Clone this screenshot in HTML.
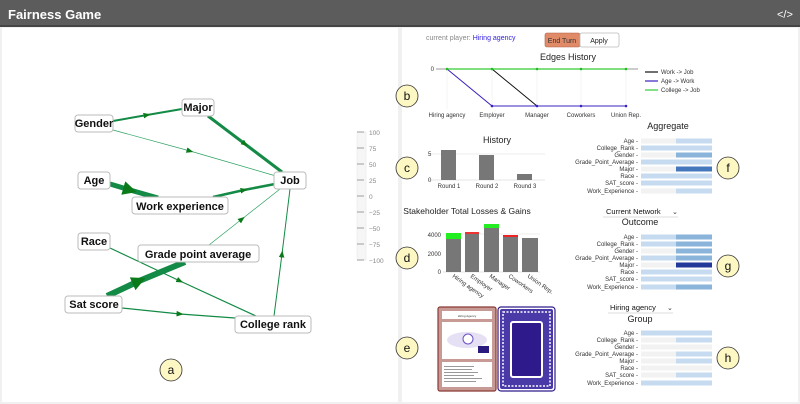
<!DOCTYPE html>
<html><head><meta charset="utf-8"><style>
html,body{margin:0;padding:0;background:#fff}
svg{display:block}
text{font-family:"Liberation Sans",Arial,sans-serif}
</style></head><body>
<svg width="800" height="404" viewBox="0 0 800 404" xmlns="http://www.w3.org/2000/svg">
<defs>
<marker id="ar" viewBox="0 0 10 10" refX="5" refY="5" markerWidth="7" markerHeight="7" markerUnits="userSpaceOnUse" orient="auto"><path d="M0,1 L10,5 L0,9z" fill="#0a7a1a"/></marker>
<marker id="arb" viewBox="0 0 10 10" refX="5" refY="5" markerWidth="14" markerHeight="14" markerUnits="userSpaceOnUse" orient="auto"><path d="M0,0 L10,5 L0,10z" fill="#0a7a1a"/></marker>
</defs>
<rect width="800" height="404" fill="#f0f0f0"/>
<rect x="0" y="0" width="800" height="27" fill="#5c5c5c"/>
<rect x="0" y="25" width="800" height="2" fill="#444"/>
<text x="8" y="19" font-size="13" font-weight="bold" fill="#fff">Fairness Game</text>
<text x="777" y="18" font-size="11" fill="#fff">&lt;/&gt;</text>
<rect x="2" y="28" width="396" height="374" fill="#fff"/>
<rect x="402" y="28" width="396" height="374" fill="#fff"/>

<!-- graph edges -->
<g fill="none" stroke="#138a45">
<polyline points="113,121 147,115 182,109" stroke-width="2" marker-mid="url(#ar)"/>
<polyline points="208,116 245,144 282,172" stroke-width="3" marker-mid="url(#ar)"/>
<polyline points="113,130 190,151 276,176" stroke-width="0.7" stroke="#2aa060" marker-mid="url(#ar)"/>
<polyline points="110,184 130,190 158,198" stroke-width="5" marker-mid="url(#arb)"/>
<polyline points="213,197 244,190 275,184" stroke-width="2.5" marker-mid="url(#ar)"/>
<polyline points="209,245 242,219 280,189" stroke-width="0.7" stroke="#2aa060" marker-mid="url(#ar)"/>
<polyline points="110,248 180,281 256,316" stroke-width="1.2" marker-mid="url(#ar)"/>
<polyline points="107,296 139,281 185,262" stroke-width="6" marker-mid="url(#arb)"/>
<polyline points="122,308 180,314 235,318" stroke-width="1.2" marker-mid="url(#ar)"/>
<polyline points="274,316 282,254 290,189" stroke-width="1" marker-mid="url(#ar)"/>
</g>
<g font-size="11" font-weight="bold" fill="#111" text-anchor="middle">
<rect x="75" y="115" width="38" height="17" rx="3" fill="#fff" stroke="#bbb"/><text x="94" y="127">Gender</text>
<rect x="182" y="99" width="32" height="17" rx="3" fill="#fff" stroke="#bbb"/><text x="198" y="111">Major</text>
<rect x="274" y="172" width="32" height="17" rx="3" fill="#fff" stroke="#bbb"/><text x="290" y="184">Job</text>
<rect x="78" y="172" width="32" height="17" rx="3" fill="#fff" stroke="#bbb"/><text x="94" y="184">Age</text>
<rect x="132" y="197" width="96" height="17" rx="3" fill="#fff" stroke="#bbb"/><text x="180" y="210">Work experience</text>
<rect x="78" y="233" width="32" height="17" rx="3" fill="#fff" stroke="#bbb"/><text x="94" y="245">Race</text>
<rect x="138" y="245" width="121" height="17" rx="3" fill="#fff" stroke="#bbb"/><text x="198" y="258">Grade point average</text>
<rect x="65" y="296" width="57" height="17" rx="3" fill="#fff" stroke="#bbb"/><text x="94" y="308">Sat score</text>
<rect x="235" y="316" width="76" height="17" rx="3" fill="#fff" stroke="#bbb"/><text x="273" y="328">College rank</text>
</g>
<!-- scale -->
<rect x="357" y="132" width="9" height="128" fill="#f6f6f6" stroke="#e4e4e4" stroke-width="0.5"/>
<g stroke="#888" stroke-width="0.8">
<line x1="357" y1="132" x2="364" y2="132"/><line x1="357" y1="148" x2="364" y2="148"/><line x1="357" y1="164" x2="364" y2="164"/><line x1="357" y1="180" x2="364" y2="180"/><line x1="357" y1="196" x2="364" y2="196"/><line x1="357" y1="212" x2="364" y2="212"/><line x1="357" y1="228" x2="364" y2="228"/><line x1="357" y1="244" x2="364" y2="244"/><line x1="357" y1="260" x2="364" y2="260"/>
</g>
<g font-size="6.5" fill="#888">
<text x="369" y="135">100</text><text x="369" y="151">75</text><text x="369" y="167">50</text><text x="369" y="183">25</text><text x="369" y="199">0</text><text x="369" y="215">−25</text><text x="369" y="231">−50</text><text x="369" y="247">−75</text><text x="369" y="263">−100</text>
</g>

<!-- letter badges -->
<g fill="#fdf7c3" stroke="#333" stroke-width="0.8">
<circle cx="171" cy="370" r="11"/><circle cx="407" cy="96" r="11"/><circle cx="407" cy="168" r="11"/><circle cx="407" cy="258" r="11"/><circle cx="407" cy="348" r="11"/><circle cx="728" cy="168" r="11"/><circle cx="728" cy="266" r="11"/><circle cx="728" cy="358" r="11"/>
</g>
<g font-size="12" fill="#111" text-anchor="middle">
<text x="171" y="374">a</text><text x="407" y="100">b</text><text x="407" y="172">c</text><text x="407" y="262">d</text><text x="407" y="352">e</text><text x="728" y="172">f</text><text x="728" y="270">g</text><text x="728" y="362">h</text>
</g>

<!-- top controls -->
<text x="426" y="40" font-size="7" fill="#888">current player: <tspan fill="#3322dd">Hiring agency</tspan></text>
<rect x="545" y="33" width="35" height="14" rx="2" fill="#e08a68" stroke="#b06040" stroke-width="0.6"/>
<text x="562" y="43" font-size="7" fill="#333" text-anchor="middle">End Turn</text>
<rect x="580" y="33" width="39" height="14" rx="2" fill="#fff" stroke="#bbb" stroke-width="0.8"/>
<text x="599" y="43" font-size="7" fill="#222" text-anchor="middle">Apply</text>

<!-- edges history -->
<text x="568" y="60" font-size="9" fill="#222" text-anchor="middle">Edges History</text>
<g stroke="#eee" stroke-width="0.6"><line x1="447" y1="69" x2="447" y2="109"/><line x1="492" y1="69" x2="492" y2="109"/><line x1="537" y1="69" x2="537" y2="109"/><line x1="581" y1="69" x2="581" y2="109"/><line x1="626" y1="69" x2="626" y2="109"/></g>
<line x1="436" y1="69" x2="638" y2="69" stroke="#999" stroke-width="1"/>
<text x="434" y="71" font-size="6" fill="#333" text-anchor="end">0</text>
<polyline points="447,69 492,106 537,106 581,106 626,106" fill="none" stroke="#3a20c0" stroke-width="1"/>
<polyline points="447,69 492,69 537,106" fill="none" stroke="#111" stroke-width="1"/>
<polyline points="447,69 626,69" fill="none" stroke="#33cc33" stroke-width="1.3"/>
<g fill="#3a20c0"><circle cx="492" cy="106" r="1.3"/><circle cx="537" cy="106" r="1.3"/><circle cx="581" cy="106" r="1.3"/><circle cx="626" cy="106" r="1.3"/></g>
<g fill="#2b2"><circle cx="447" cy="69" r="1.3"/><circle cx="492" cy="69" r="1.3"/><circle cx="537" cy="69" r="1.3"/><circle cx="581" cy="69" r="1.3"/><circle cx="626" cy="69" r="1.3"/></g>
<g font-size="6" fill="#333" text-anchor="middle"><text x="447" y="117">Hiring agency</text><text x="492" y="117">Employer</text><text x="537" y="117">Manager</text><text x="581" y="117">Coworkers</text><text x="626" y="117">Union Rep.</text></g>
<g stroke-width="1.2"><line x1="645" y1="72" x2="658" y2="72" stroke="#111"/><line x1="645" y1="81" x2="658" y2="81" stroke="#3a20c0"/><line x1="645" y1="90" x2="658" y2="90" stroke="#33cc33"/></g>
<g font-size="6" fill="#333"><text x="661" y="74">Work -&gt; Job</text><text x="661" y="83">Age -&gt; Work</text><text x="661" y="92">College -&gt; Job</text></g>

<!-- history -->
<text x="497" y="143" font-size="9" fill="#222" text-anchor="middle">History</text>
<line x1="428" y1="154" x2="545" y2="154" stroke="#eee"/>
<line x1="428" y1="180" x2="545" y2="180" stroke="#ccc" stroke-width="0.6"/>
<rect x="441" y="150" width="15" height="30" fill="#777"/><rect x="479" y="155" width="15" height="25" fill="#777"/><rect x="517" y="174" width="15" height="6" fill="#777"/>
<g font-size="6" fill="#333"><text x="428" y="156">5</text><text x="428" y="182">0</text></g>
<g font-size="6" fill="#333" text-anchor="middle"><text x="449" y="188">Round 1</text><text x="487" y="188">Round 2</text><text x="525" y="188">Round 3</text></g>

<!-- aggregate / outcome / group -->
<text x="668" y="129" font-size="9" fill="#222" text-anchor="middle">Aggregate</text>
<g font-size="6" fill="#333" text-anchor="end">
<text x="638" y="143">Age -</text><text x="638" y="150">College_Rank -</text><text x="638" y="157">Gender -</text><text x="638" y="164">Grade_Point_Average -</text><text x="638" y="171">Major -</text><text x="638" y="178">Race -</text><text x="638" y="185">SAT_score -</text><text x="638" y="193">Work_Experience -</text>
</g>
<g>
<rect x="641" y="138.5" width="35" height="5" fill="#f2f2f2"/><rect x="676" y="138.5" width="36" height="5" fill="#c6dbef"/>
<rect x="641" y="145.5" width="71" height="5" fill="#c6dbef"/>
<rect x="641" y="152.5" width="35" height="5" fill="#f2f2f2"/><rect x="676" y="152.5" width="36" height="5" fill="#8ab4da"/>
<rect x="641" y="159.5" width="71" height="5" fill="#c6dbef"/>
<rect x="641" y="166.5" width="35" height="5" fill="#f2f2f2"/><rect x="676" y="166.5" width="36" height="5" fill="#4577bd"/>
<rect x="641" y="173.5" width="71" height="5" fill="#c6dbef"/>
<rect x="641" y="180.5" width="71" height="5" fill="#c6dbef"/>
<rect x="641" y="188.5" width="35" height="5" fill="#f2f2f2"/><rect x="676" y="188.5" width="36" height="5" fill="#c6dbef"/>
</g>

<text x="606" y="214" font-size="7.5" fill="#111">Current Network</text>
<text x="672" y="214" font-size="7" fill="#333">⌄</text>
<line x1="603" y1="217" x2="678" y2="217" stroke="#ddd"/>
<text x="640" y="225" font-size="9" fill="#222" text-anchor="middle">Outcome</text>
<g font-size="6" fill="#333" text-anchor="end">
<text x="638" y="239">Age -</text><text x="638" y="246">College_Rank -</text><text x="638" y="253">Gender -</text><text x="638" y="260">Grade_Point_Average -</text><text x="638" y="267">Major -</text><text x="638" y="274">Race -</text><text x="638" y="281">SAT_score -</text><text x="638" y="289">Work_Experience -</text>
</g>
<g>
<rect x="641" y="234.5" width="35" height="5" fill="#c6dbef"/><rect x="676" y="234.5" width="36" height="5" fill="#8ab4da"/>
<rect x="641" y="241.5" width="35" height="5" fill="#c6dbef"/><rect x="676" y="241.5" width="36" height="5" fill="#8ab4da"/>
<rect x="641" y="248.5" width="35" height="5" fill="#f2f2f2"/><rect x="676" y="248.5" width="36" height="5" fill="#8ab4da"/>
<rect x="641" y="255.5" width="35" height="5" fill="#c6dbef"/><rect x="676" y="255.5" width="36" height="5" fill="#8ab4da"/>
<rect x="641" y="262.5" width="35" height="5" fill="#f2f2f2"/><rect x="676" y="262.5" width="36" height="5" fill="#23399a"/>
<rect x="641" y="269.5" width="71" height="5" fill="#c6dbef"/>
<rect x="641" y="276.5" width="71" height="5" fill="#c6dbef"/>
<rect x="641" y="284.5" width="35" height="5" fill="#c6dbef"/><rect x="676" y="284.5" width="36" height="5" fill="#8ab4da"/>
</g>

<text x="610" y="310" font-size="7.5" fill="#111">Hiring agency</text>
<text x="667" y="310" font-size="7" fill="#333">⌄</text>
<line x1="608" y1="313" x2="673" y2="313" stroke="#ddd"/>
<text x="640" y="322" font-size="9" fill="#222" text-anchor="middle">Group</text>
<g font-size="6" fill="#333" text-anchor="end">
<text x="638" y="335">Age -</text><text x="638" y="342">College_Rank -</text><text x="638" y="349">Gender -</text><text x="638" y="356">Grade_Point_Average -</text><text x="638" y="363">Major -</text><text x="638" y="370">Race -</text><text x="638" y="377">SAT_score -</text><text x="638" y="385">Work_Experience -</text>
</g>
<g>
<rect x="641" y="330.5" width="71" height="5" fill="#c6dbef"/>
<rect x="641" y="337.5" width="35" height="5" fill="#f2f2f2"/><rect x="676" y="337.5" width="36" height="5" fill="#c6dbef"/>
<rect x="641" y="344.5" width="71" height="5" fill="#f2f2f2"/>
<rect x="641" y="351.5" width="35" height="5" fill="#f2f2f2"/><rect x="676" y="351.5" width="36" height="5" fill="#c6dbef"/>
<rect x="641" y="358.5" width="35" height="5" fill="#f2f2f2"/><rect x="676" y="358.5" width="36" height="5" fill="#c6dbef"/>
<rect x="641" y="365.5" width="71" height="5" fill="#f2f2f2"/>
<rect x="641" y="372.5" width="35" height="5" fill="#f2f2f2"/><rect x="676" y="372.5" width="36" height="5" fill="#c6dbef"/>
<rect x="641" y="380.5" width="71" height="5" fill="#c6dbef"/>
</g>

<!-- stakeholder chart -->
<text x="467" y="214" font-size="8.5" fill="#222" text-anchor="middle">Stakeholder Total Losses &amp; Gains</text>
<line x1="443" y1="234" x2="540" y2="234" stroke="#eee"/>
<line x1="443" y1="272" x2="540" y2="272" stroke="#ccc" stroke-width="0.6"/>
<g font-size="6" fill="#333" text-anchor="end"><text x="441" y="237">4000</text><text x="441" y="256">2000</text><text x="441" y="274">0</text></g>
<rect x="446" y="239" width="15" height="33" fill="#777"/><rect x="446" y="233" width="15" height="6" fill="#22ee22"/>
<rect x="465" y="234" width="14" height="38" fill="#777"/><rect x="465" y="232" width="14" height="2" fill="#ee3333"/>
<rect x="484" y="228" width="15" height="44" fill="#777"/><rect x="484" y="224" width="15" height="4" fill="#22ee22"/>
<rect x="503" y="237" width="15" height="35" fill="#777"/><rect x="503" y="235" width="15" height="2" fill="#ee2222"/>
<rect x="522" y="238" width="16" height="34" fill="#777"/>
<g font-size="6" fill="#333">
<text transform="translate(452,277) rotate(35)">Hiring agency</text>
<text transform="translate(470,277) rotate(35)">Employer</text>
<text transform="translate(489,277) rotate(35)">Manager</text>
<text transform="translate(508,277) rotate(35)">Coworkers</text>
<text transform="translate(527,277) rotate(35)">Union Rep.</text>
</g>

<!-- cards -->
<rect x="438" y="307" width="58" height="84" rx="2" fill="#c89a96" stroke="#8a3a34" stroke-width="1.2"/>
<rect x="442" y="311" width="50" height="8" fill="#fff"/>
<text x="467" y="317" font-size="3" fill="#333" text-anchor="middle">Hiring Agency</text>
<rect x="442" y="322" width="50" height="37" fill="#fff"/>
<ellipse cx="467" cy="340" rx="20" ry="8" fill="#e6e0f4"/>
<circle cx="468" cy="339" r="5" fill="#fff" stroke="#6a50c0" stroke-width="1"/>
<rect x="478" y="346" width="11" height="7" fill="#2a1a80"/>
<rect x="442" y="362" width="50" height="25" fill="#fff"/>
<g fill="#999"><rect x="444" y="366" width="30" height="1"/><rect x="444" y="369" width="28" height="1"/><rect x="444" y="372" width="34" height="1"/><rect x="444" y="375" width="30" height="1"/><rect x="444" y="378" width="38" height="1"/><rect x="444" y="381" width="32" height="1"/></g>
<rect x="498" y="307" width="57" height="84" rx="3" fill="#fff" stroke="#2e1a8a" stroke-width="1.2"/>
<rect x="500" y="309" width="53" height="80" rx="2" fill="#4a3aa8"/>
<rect x="503" y="312" width="47" height="74" fill="none" stroke="#fff" stroke-width="1.5" stroke-dasharray="2,1.5"/>
<rect x="511" y="322" width="31" height="55" rx="2" fill="#2e1a8a" stroke="#fff" stroke-width="2"/>
</svg>
</body></html>
